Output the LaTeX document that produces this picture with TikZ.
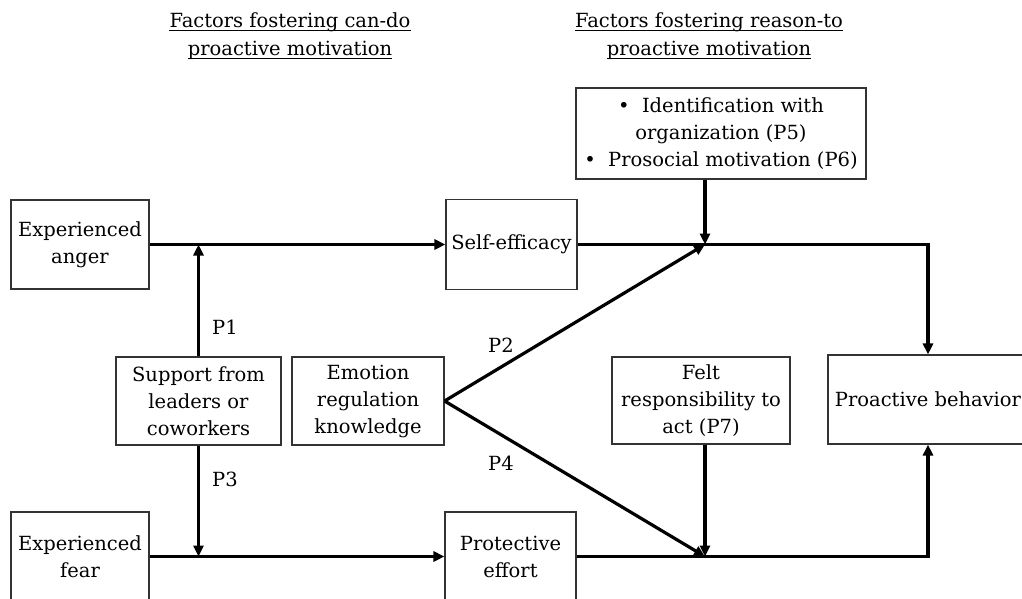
\documentclass[tikz,border=0pt]{standalone}
\usepackage{fontspec}
\setmainfont{DejaVu Serif}
\usetikzlibrary{arrows.meta}
\begin{document}
\begin{tikzpicture}[x=1pt,y=-1pt]
\tikzset{cadre/.style={draw=black!80, line width=1.1pt, rectangle, inner sep=2pt, align=center, font=\fontsize{19.5}{27}\selectfont},
  fleche/.style={line width=3.2pt, -{Triangle[length=11pt,width=10pt]}},
  etiq/.style={inner sep=0pt, align=center, font=\fontsize{19.5}{27}\selectfont},
  soulign/.style={line width=1.7pt}}
\clip (0,0) rectangle (1022,598);
\node[etiq, anchor=base] (T1a) at (290,27) {Factors fostering can-do};
\node[etiq, anchor=base] (T1b) at (290,55) {proactive motivation};
\node[etiq, anchor=base] (T2a) at (709,27) {Factors fostering reason-to};
\node[etiq, anchor=base] (T2b) at (709,55) {proactive motivation};
\foreach \t in {T1a,T1b,T2a,T2b}
  \draw[soulign] ([yshift=-3.5pt]\t.base west) -- ([yshift=-3.5pt]\t.base east);
\node[cadre, minimum width=138, minimum height=89] (Anger) at (80,244.5) {Experienced\\anger};
\node[cadre, minimum width=138, minimum height=89] (Fear) at (80,556.5) {Experienced\\fear};
\node[cadre, minimum width=165, minimum height=88] (Supp) at (198.5,401) {Support from\\leaders or\\coworkers};
\node[cadre, minimum width=152, minimum height=88] (Emo) at (368,401) {Emotion\\regulation\\knowledge};
\node[cadre, minimum width=131, minimum height=90] (Eff) at (511.5,244.5) {Self-efficacy};
\node[cadre, minimum width=131, minimum height=89] (Prot) at (510.5,556.5) {Protective\\effort};
\node[cadre, minimum width=290, minimum height=91] (Ident) at (721,133.5) {\textbullet\ \ Identification with\\organization (P5)\\\textbullet\ \ Prosocial motivation (P6)};
\node[cadre, minimum width=178, minimum height=87] (Felt) at (701,400.5) {Felt\\responsibility to\\act (P7)};
\node[cadre, minimum width=200, minimum height=89] (Proact) at (928,399.5) {Proactive behavior};
\coordinate (Haut) at (705,244.5);
\coordinate (Bas) at (705,556.5);
\draw[fleche] (Anger.east) -- (Eff.west);
\draw[fleche] (Fear.east) -- (Prot.west);
\draw[fleche] (Supp.north) -- (Supp.north |- Anger.east);
\draw[fleche] (Supp.south) -- (Supp.south |- Fear.east);
\draw[fleche] (Emo.east) -- (Haut);
\draw[fleche] (Emo.east) -- (Bas);
\draw[fleche] (Ident.south -| Haut) -- (Haut);
\draw[fleche] (Felt.south -| Bas) -- (Bas);
\draw[fleche] (Eff.east) -- (Eff.east -| Proact.north) -- (Proact.north);
\draw[fleche] (Prot.east) -- (Prot.east -| Proact.south) -- (Proact.south);
\node[etiq] (P1) at (225,327) {P1};
\node[etiq] (P3) at (225,479) {P3};
\node[etiq] (P2) at (501,345) {P2};
\node[etiq] (P4) at (501,463) {P4};
\end{tikzpicture}
\end{document}
